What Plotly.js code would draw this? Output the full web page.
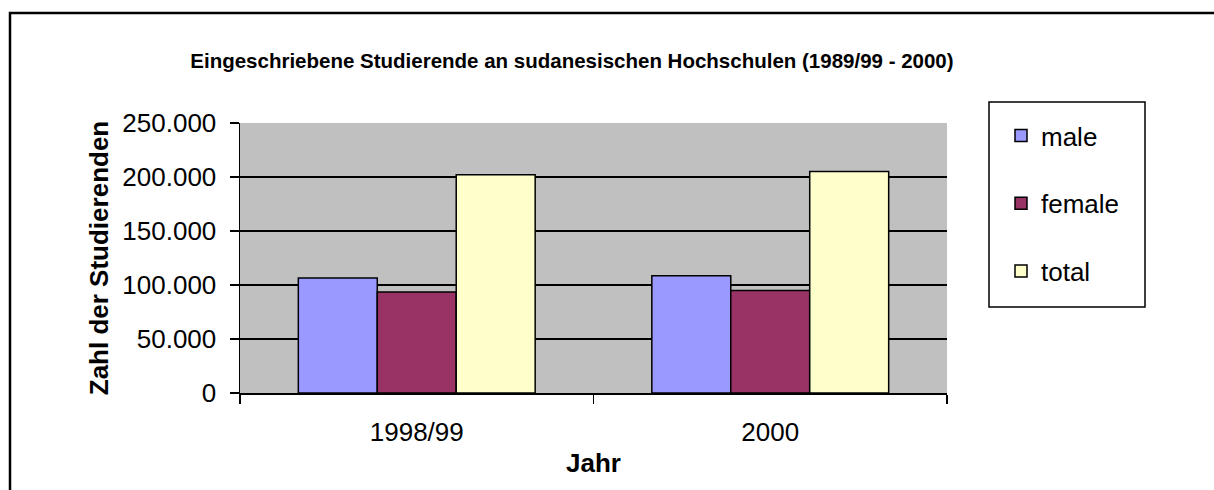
<!DOCTYPE html>
<html>
<head>
<meta charset="utf-8">
<script src="https://cdn.plot.ly/plotly-3.0.1.min.js"></script>
<style>
html,body{margin:0;padding:0;background:#fff;}
#chart{width:1214px;height:490px;}
</style>
</head>
<body>
<div id="chart"></div>
<script>
const categories = ["1998/99", "2000"];
const seriesNames = ["male", "female", "total"];
const male = [106500, 108500];
const female = [93500, 95000];
const total = [202000, 205000];
const seriesColors = ["#9999ff", "#993366", "#ffffcc"];
const yTicks = [0, 50000, 100000, 150000, 200000, 250000];

const values = [male, female, total];
const traces = values.map((v, i) => ({
  type: "bar",
  name: seriesNames[i],
  x: categories,
  y: v,
  legendgroup: "g" + i,
  marker: {color: seriesColors[i], line: {color: "#000", width: 1.5}}
}));

const font = "Arial, 'Liberation Sans', sans-serif";
const layout = {
  width: 1214, height: 490,
  margin: {l: 240, r: 267, t: 123, b: 97},
  paper_bgcolor: "#fff",
  plot_bgcolor: "#c0c0c0",
  separators: ",.",
  barmode: "group",
  bargap: 0.33,
  bargroupgap: 0,
  showlegend: true,
  font: {family: font, color: "#000"},
  title: {
    text: "<b>Eingeschriebene Studierende an sudanesischen Hochschulen (1989/99 - 2000)</b>",
    font: {family: font, size: 20.5, color: "#000"},
    x: 570/1214, xanchor: "center", xref: "paper",
    y: 1 - 61/490, yanchor: "middle", yref: "container"
  },
  xaxis: {
    type: "category",
    showline: true, linecolor: "#000", linewidth: 1.5,
    ticks: "outside", tickson: "boundaries", ticklen: 9, tickcolor: "#000", tickwidth: 1.5,
    tickfont: {family: font, size: 26, color: "#000"},
    ticklabelstandoff: 15,
    showgrid: false,
    title: {text: "<b>Jahr</b>", font: {family: font, size: 26, color: "#000"}, standoff: 8}
  },
  yaxis: {
    range: [0, 250000],
    tickvals: yTicks,
    tickformat: ",d",
    showline: true, linecolor: "#000", linewidth: 1.5,
    ticks: "outside", ticklen: 9, tickcolor: "#000", tickwidth: 1.5,
    tickfont: {family: font, size: 26, color: "#000"},
    ticklabelstandoff: 8,
    showgrid: true, gridcolor: "#000", gridwidth: 2,
    zeroline: false,
    title: {text: "<b>Zahl der Studierenden</b>", font: {family: font, size: 26, color: "#000"}, standoff: 6}
  },
  legend: {
    x: (1001 - 240) / 707, xanchor: "left",
    y: (393 - 112) / 270, yanchor: "top",
    bgcolor: "rgba(0,0,0,0)", borderwidth: 0,
    font: {family: font, size: 26, color: "#000"},
    traceorder: "grouped", tracegroupgap: 31
  },
  shapes: [
    {type: "rect", xref: "paper", yref: "paper",
     x0: (10 - 240) / 707, x1: (1230 - 240) / 707,
     y0: (393 - 510) / 270, y1: (393 - 13) / 270,
     line: {color: "#000", width: 2.5}, fillcolor: "rgba(0,0,0,0)", layer: "below"},
    {type: "rect", xref: "paper", yref: "paper",
     x0: (989 - 240) / 707, x1: (1145 - 240) / 707,
     y0: (393 - 307) / 270, y1: (393 - 102) / 270,
     line: {color: "#000", width: 1.5}, fillcolor: "#fff", layer: "below"}
  ]
};

Plotly.newPlot("chart", traces, layout, {displayModeBar: false, staticPlot: true});
</script>
</body>
</html>
